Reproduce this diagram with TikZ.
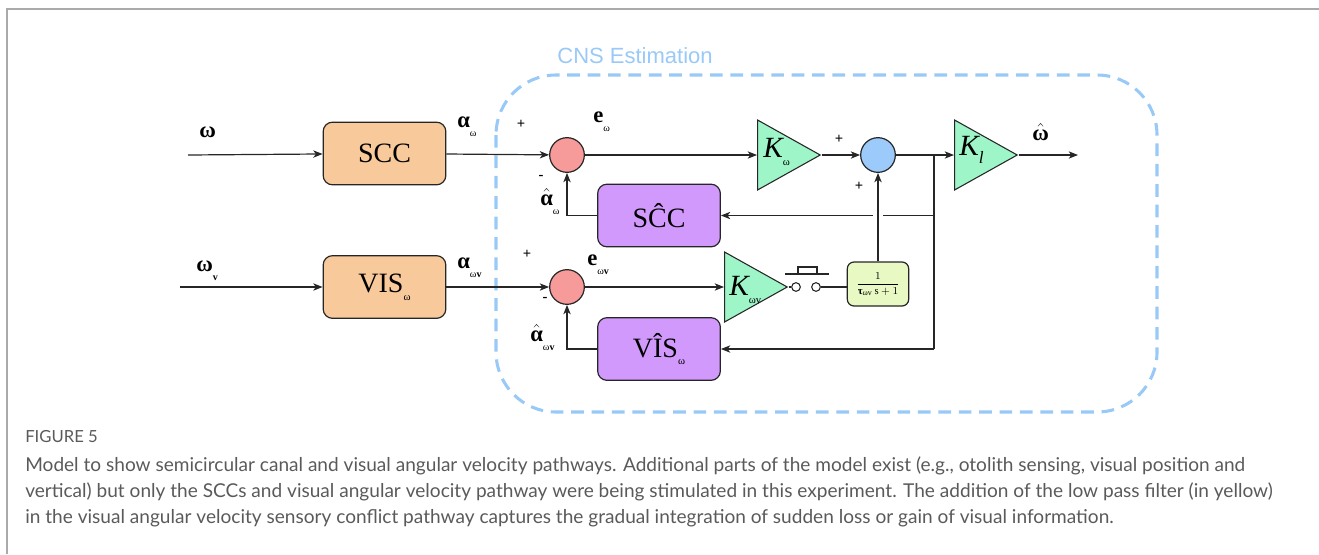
\documentclass[tikz,border=0pt]{standalone}
\usepackage{amsmath, amssymb}
\usepackage{xcolor}
\usepackage{fontspec}
\setmainfont{Liberation Serif}
\newfontfamily\capfont{Lato}
\newfontfamily\cnsfont{Liberation Sans}
\usetikzlibrary{arrows.meta, shapes.geometric, calc}

\definecolor{sensororange}{HTML}{F8C99A}
\definecolor{internalpurple}{HTML}{D199FC}
\definecolor{gaingreen}{HTML}{9EF5C8}
\definecolor{sumred}{HTML}{F79A9A}
\definecolor{sumblue}{HTML}{9CCBFB}
\definecolor{lpfyellow}{HTML}{E9F9C4}
\definecolor{cnsblue}{HTML}{99C9F7}
\definecolor{captiongray}{HTML}{5A5A5A}
\definecolor{framegray}{HTML}{AAAAAA}

\newcommand{\sig}[2]{#1\raisebox{-0.9ex}{\fontsize{7.5}{7.5}\selectfont#2}}
\newcommand{\gainlab}[2]{{\fontsize{22}{22}\selectfont\itshape K}\raisebox{-1.3ex}{#1#2}}
\newcommand{\blocksub}{\raisebox{-0.6ex}{\fontsize{8}{8}\selectfont ω}}
\newcommand{\hatbf}[1]{$\hat{\text{\textbf{#1}}}$}

\tikzset{
	sensor/.style = {draw=black!85, line width=0.9pt, rounded corners=7pt, fill=sensororange,
		minimum width=92pt, minimum height=47pt, inner sep=0pt, font=\fontsize{21}{21}\selectfont},
	internal/.style = {sensor, fill=internalpurple},
	summer/.style = {circle, draw=black!85, line width=0.9pt, minimum size=26pt, inner sep=0pt},
	gain/.style = {isosceles triangle, isosceles triangle stretches, draw=black!85, line width=0.8pt,
		fill=gaingreen, minimum height=47pt, minimum width=52.5pt, inner sep=0pt, anchor=west},
	siglab/.style = {anchor=base west, inner sep=0pt, font=\fontsize{17}{17}\selectfont},
	sgn/.style = {inner sep=0pt, font=\fontsize{11}{11}\selectfont\bfseries},
	wire/.style = {line width=0.9pt, draw=black!85},
	contact/.style = {circle, draw=black!85, line width=0.8pt, minimum size=6.5pt, inner sep=0pt, fill=white},
	capline/.style = {anchor=base west, inner sep=0pt, text=captiongray, font=\capfont\fontsize{14.3}{16}\selectfont},
	>={Stealth[length=7pt, width=5.5pt, inset=2pt]}
}

\begin{document}
\begin{tikzpicture}[x=0.75pt, y=-0.75pt]
	\useasboundingbox (0,0) rectangle (1319,554);
	\draw[framegray, line width=1.5pt] (7,554) -- (7,9) -- (1319,9);

	% CNS estimation region
	\draw[cnsblue, line width=2.3pt, dash pattern=on 9.5pt off 5.8pt, rounded corners=45pt]
		(496,75) rectangle (1157,412);
	\node[text=cnsblue, font=\cnsfont\fontsize{16.5}{16.5}\selectfont] (cns) at (635,56) {CNS Estimation};

	% blocks
	\node[sensor] (scc) at (384.5,153.5) {SCC};
	\node[sensor] (vis) at (384.5,287) {VIS\blocksub};
	\node[internal] (scchat) at (659,215.5) {S\^{C}C};
	\node[internal] (vishat) at (659,349) {V\^{I}S\blocksub};

	\node[summer, fill=sumred] (s1) at (567,155) {};
	\node[summer, fill=sumred] (s3) at (567,287) {};
	\node[summer, fill=sumblue] (s2) at (878,155) {};

	\node[gain] (kw) at (757,155) {};
	\node[gain] (kl) at (954,155) {};
	\node[gain] (kwv) at (724,287) {};
	\node[inner sep=0pt, anchor=west] (kwlab) at ($(kw.west)+(6,-3)$) {\gainlab{\fontsize{8}{8}\selectfont}{ω}};
	\node[inner sep=0pt, anchor=west] (kllab) at ($(kl.west)+(5,-5)$) {\gainlab{\fontsize{13}{13}\selectfont\itshape}{l}};
	\node[inner sep=0pt, anchor=west] (kwvlab) at ($(kwv.west)+(5,3)$) {\gainlab{\fontsize{8}{8}\selectfont}{ωv}};

	\node[contact] (sw1) at (796,287) {};
	\node[contact] (sw2) at (816,287) {};
	\draw[wire, line width=0.8pt] (785,274) -- (829,274);
	\draw[wire, line width=0.8pt] (798,274) rectangle (817,267);

	\node[draw=black!85, line width=0.9pt, rounded corners=5pt, fill=lpfyellow, minimum width=46pt,
		minimum height=33pt, inner sep=0pt, font=\fontsize{8}{9}\selectfont] (lpf) at (878,284)
		{$\dfrac{1}{\text{\textbf{τ}}_{\text{ωv}}\,\mathrm{s}+1}$};

	% signals
	\coordinate (win) at (188,155);
	\coordinate (wvin) at (180,287);
	\coordinate (wout) at (1078,155);
	\coordinate (jn) at (934,155);

	\draw[wire, ->] (win) -- (scc);
	\draw[wire, ->] (scc) -- (s1);
	\draw[wire, ->] (s1) -- (kw.west);
	\draw[wire, ->] (kw.apex) -- (s2);
	\draw[wire, ->] (s2) -- (kl.west);
	\draw[wire, ->] (kl.apex) -- (wout);

	\draw[wire, ->] (wvin) -- (vis);
	\draw[wire, ->] (vis) -- (s3);
	\draw[wire, ->] (s3) -- (kwv.west);
	\draw[wire] (kwv.apex) -- (sw1);
	\draw[wire] (sw2) -- (lpf.west |- sw2);

	\draw[wire] (jn) -- (jn |- vishat.east);
	\draw[wire, ->] (jn |- scchat.east) -- (scchat.east);
	\draw[wire, ->] (jn |- vishat.east) -- (vishat.east);
	\draw[wire, ->, preaction={draw=white, line width=7pt, shorten >=3pt, shorten <=3pt}] (lpf.north) -- (s2.south);
	\draw[wire, ->] (scchat.west) -| (s1.south);
	\draw[wire, ->] (vishat.west) -| (s3.south);

	% labels
	\node[siglab] (lw) at (199,137) {\textbf{ω}};
	\node[siglab] (lwv) at (196,271) {\sig{\textbf{ω}}{\textbf{v}}};
	\node[siglab] (la) at (457,127) {\sig{\textbf{α}}{ω}};
	\node[siglab] (lav) at (457,268) {\sig{\textbf{α}}{ω\textbf{v}}};
	\node[siglab] (le) at (593,122) {\sig{\textbf{e}}{ω}};
	\node[siglab] (lev) at (587,265) {\sig{\textbf{e}}{ω\textbf{v}}};
	\node[siglab] (lah) at (540,205) {\sig{\hatbf{α}}{ω}};
	\node[siglab] (lahv) at (530,341) {\sig{\hatbf{α}}{ω\textbf{v}}};
	\node[siglab] (lwh) at (1032,140) {\hatbf{ω}};

	\node[sgn] (p1) at (521,124) {+};
	\node[sgn] (m1) at (541,177) {-};
	\node[sgn] (p2) at (839,139) {+};
	\node[sgn] (p3) at (859,186) {+};
	\node[sgn] (p4) at (527,254) {+};
	\node[sgn] (m3) at (545,299) {-};

	% caption
	\node[capline, font=\capfont\fontsize{12.5}{14}\selectfont] (fig) at (25,442) {FIGURE 5};
	\node[capline] (c1) at (25,471) {Model to show semicircular canal and visual angular velocity pathways. Additional parts of the model exist (e.g., otolith sensing, visual position and};
	\node[capline] (c2) at (25,497) {vertical) but only the SCCs and visual angular velocity pathway were being stimulated in this experiment. The addition of the low pass filter (in yellow)};
	\node[capline] (c3) at (25,523) {in the visual angular velocity sensory conflict pathway captures the gradual integration of sudden loss or gain of visual information.};
\end{tikzpicture}
\end{document}
